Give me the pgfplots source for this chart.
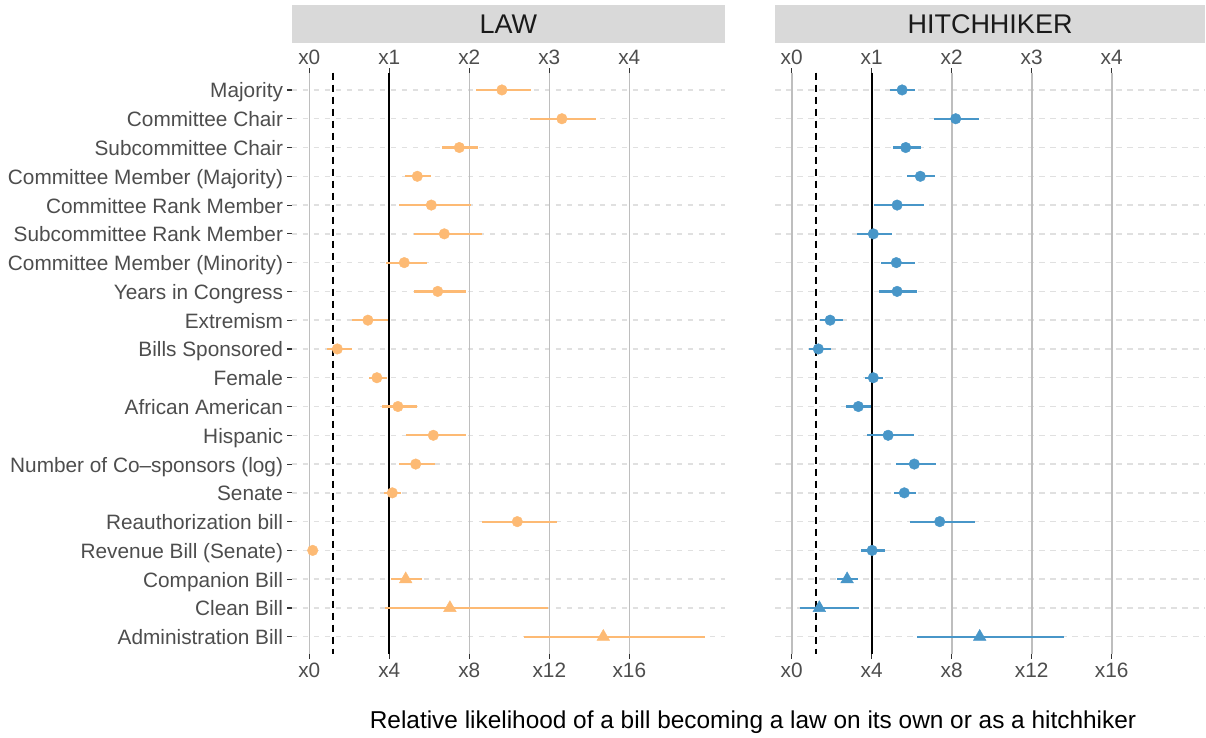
\documentclass[border=0pt]{standalone}
\usepackage{pgfplots}
\pgfplotsset{compat=1.18}
\usepackage{pgfplotstable}
\usepackage{fontspec}
\setmainfont{Liberation Sans}
\definecolor{lawc}{RGB}{253,186,116}
\definecolor{hhc}{RGB}{72,150,200}
\definecolor{vgrid}{RGB}{190,190,190}
\definecolor{hgrid}{RGB}{224,224,224}
\definecolor{stripc}{RGB}{217,217,217}
\definecolor{tickc}{RGB}{77,77,77}
\definecolor{tickm}{RGB}{51,51,51}
\definecolor{stript}{RGB}{26,26,26}

\pgfplotstableread{
y est lo hi
1 9.63 8.33 11.07
2 12.63 11.03 14.32
3 7.50 6.62 8.45
4 5.40 4.80 6.08
5 6.10 4.50 8.10
6 6.75 5.22 8.62
7 4.75 3.83 5.88
8 6.42 5.23 7.82
9 2.93 2.12 3.95
10 1.40 0.87 2.15
11 3.38 3.00 3.87
12 4.43 3.62 5.38
13 6.20 4.83 7.83
14 5.32 4.48 6.28
15 4.15 3.73 4.57
16 10.40 8.65 12.38
17 0.17 0.17 0.17
18 4.82 4.08 5.63
19 7.03 3.80 11.92
20 14.70 10.72 19.78
}\lawdata

\pgfplotstableread{
y est lo hi
1 5.52 4.90 6.17
2 8.20 7.13 9.37
3 5.70 5.05 6.45
4 6.43 5.77 7.15
5 5.27 4.13 6.63
6 4.08 3.27 5.03
7 5.23 4.45 6.17
8 5.27 4.38 6.28
9 1.92 1.42 2.55
10 1.33 0.88 1.97
11 4.08 3.65 4.55
12 3.33 2.70 3.97
13 4.82 3.75 6.12
14 6.13 5.22 7.20
15 5.63 5.12 6.22
16 7.40 5.93 9.15
17 4.02 3.48 4.65
18 2.77 2.27 3.33
19 1.38 0.43 3.37
20 9.40 6.27 13.60
}\hhdata

\pgfplotsset{
  panel/.style={
    scale only axis, height=581.3pt,
    ymin=0.4, ymax=20.6, y dir=reverse,
    axis line style={draw=none},
    tick align=outside, major tick length=4.5pt,
    tick style={draw=tickm, line width=1.1pt},
    tick label style={font=\fontsize{20.8}{24}\selectfont, text=tickc},
    xtick={0,4,8,12,16},
  },
  bottompanel/.style={
    panel,
    axis x line*=bottom, axis y line*=left,
    xticklabels={x0,x4,x8,x12,x16},
    xticklabel style={inner sep=4.5pt},
  },
  toppanel/.style={
    panel,
    axis x line*=top, axis y line=none, ytick=\empty,
    xticklabels={x0,x1,x2,x3,x4},
    xticklabel style={inner sep=3pt},
  },
  errstyle/.style={
    error bars/.cd, x dir=both, x explicit, error mark=none,
    error bar style={#1, line width=2.2pt},
  },
}

\newcommand{\panelbody}[4]{%
  % #1 xmin, #2 xmax, #3 data, #4 color
  \pgfplotsinvokeforeach{1,...,20}{%
    \draw[hgrid, line width=1.4pt, dash pattern=on 5.5pt off 5.5pt] (axis cs:#1,##1) -- (axis cs:#2,##1);
  }
  \pgfplotsinvokeforeach{0,4,8,12,16}{%
    \draw[vgrid, line width=1.6pt] (axis cs:##1,0.4) -- (axis cs:##1,20.6);
  }
  \draw[black, line width=2pt] (axis cs:4,0.4) -- (axis cs:4,20.6);
  \draw[black, line width=2pt, dash pattern=on 7pt off 5pt] (axis cs:1.2,0.4) -- (axis cs:1.2,20.6);
  \addplot[only marks, mark=*, mark size=5.3pt, color=#4, mark options={draw=none, fill=#4},
    restrict y to domain=1:17, errstyle=#4]
    table[x=est, y=y, x error plus expr=\thisrow{hi}-\thisrow{est}, x error minus expr=\thisrow{est}-\thisrow{lo}] {#3};
  \addplot[only marks, mark=triangle*, mark size=7.3pt, color=#4, mark options={draw=none, fill=#4},
    restrict y to domain=18:20, errstyle=#4]
    table[x=est, y=y, x error plus expr=\thisrow{hi}-\thisrow{est}, x error minus expr=\thisrow{est}-\thisrow{lo}] {#3};
}

\begin{document}
\begin{tikzpicture}
\useasboundingbox (0,0) rectangle (1206pt,738pt);

% LAW panel
\begin{axis}[bottompanel, at={(291.7pt,84pt)}, anchor=south west,
  width=433.3pt, xmin=-0.88, xmax=20.785,
  ytick={1,...,20},
  yticklabels={Majority,Committee Chair,Subcommittee Chair,Committee Member (Majority),Committee Rank Member,Subcommittee Rank Member,Committee Member (Minority),Years in Congress,Extremism,Bills Sponsored,Female,African American,Hispanic,Number of Co–sponsors (log),Senate,Reauthorization bill,Revenue Bill (Senate),Companion Bill,Clean Bill,Administration Bill},
  yticklabel style={inner sep=4pt, text height=15pt, text depth=3pt, yshift=-2pt}]
\panelbody{-0.88}{20.785}{\lawdata}{lawc}
\end{axis}
\begin{axis}[toppanel, at={(291.7pt,84pt)}, anchor=south west,
  width=433.3pt, xmin=-0.88, xmax=20.785]
\end{axis}

% HITCHHIKER panel
\begin{axis}[bottompanel, at={(775pt,84pt)}, anchor=south west,
  width=430pt, xmin=-0.835, xmax=20.665, ytick=\empty]
\panelbody{-0.835}{20.665}{\hhdata}{hhc}
\end{axis}
\begin{axis}[toppanel, at={(775pt,84pt)}, anchor=south west,
  width=430pt, xmin=-0.835, xmax=20.665]
\end{axis}

% strips
\fill[stripc] (291.7pt,694.7pt) rectangle (725pt,733pt);
\node[text=stript, font=\fontsize{27}{32}\selectfont] at (508.35pt,714pt) {LAW};
\fill[stripc] (775pt,694.7pt) rectangle (1205pt,733pt);
\node[text=stript, font=\fontsize{27}{32}\selectfont] at (990pt,714pt) {HITCHHIKER};

% x label
\node[text=black, font=\fontsize{24.4}{28}\selectfont] at (753pt,16pt) {Relative likelihood of a bill becoming a law on its own or as a hitchhiker};
\end{tikzpicture}
\end{document}
